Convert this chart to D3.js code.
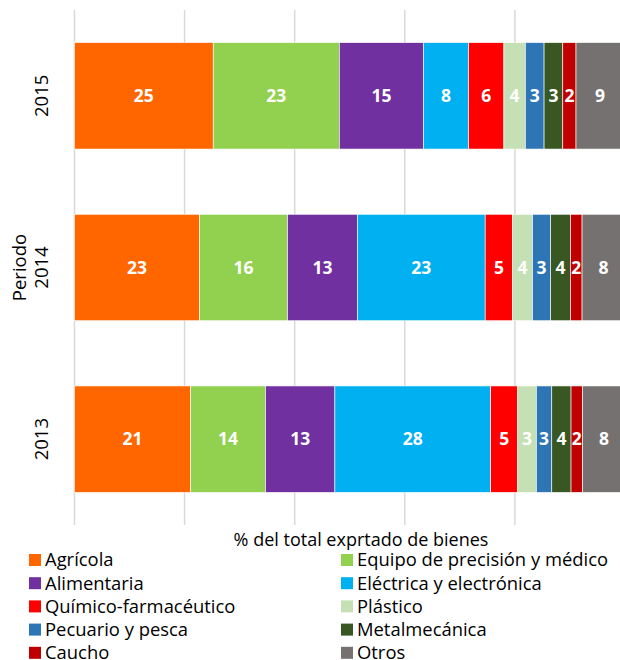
<!DOCTYPE html>
<html>
<head>
<meta charset="utf-8">
<script src="https://d3js.org/d3.v7.min.js"></script>
<style>
  body { margin: 0; background: #fff; }
  text { font-family: "Open Sans", "Liberation Sans", sans-serif; }
</style>
</head>
<body>
<div id="chart"></div>
<script>
var years = ["2015", "2014", "2013"];

var categories = ["Agrícola", "Equipo de precisión y médico", "Alimentaria", "Eléctrica y electrónica",
  "Químico-farmacéutico", "Plástico", "Pecuario y pesca", "Metalmecánica", "Caucho", "Otros"];

// % del total, orden: 2015, 2014, 2013
var agricola = [25.2, 22.7, 21.1];
var equipo = [22.9, 16.0, 13.6];
var alimentaria = [15.3, 12.7, 12.6];
var electrica = [8.2, 23.2, 28.3];
var quimico = [6.4, 5.0, 4.9];
var plastico = [3.9, 3.6, 3.4];
var pecuario = [3.4, 3.3, 2.8];
var metal = [3.4, 3.6, 3.5];
var caucho = [2.4, 2.1, 2.1];
var otros = [8.7, 7.8, 7.8];

var xTicks = [0, 20, 40, 60, 80, 100];

var colors = ["#FF6600", "#92D050", "#7030A0", "#00B0F0", "#FF0000",
  "#C5E0B4", "#2E75B6", "#385723", "#C00000", "#767171"];

var series = [agricola, equipo, alimentaria, electrica, quimico, plastico, pecuario, metal, caucho, otros];

var svgWidth = 620;
var svgHeight = 660;

var margin = { top: 10, right: -5, bottom: 135, left: 74.5 };
var width = svgWidth - margin.left - margin.right;
var height = svgHeight - margin.top - margin.bottom;

var svg = d3.select("#chart")
  .append("svg")
  .attr("width", svgWidth)
  .attr("height", svgHeight);

var chartGroup = svg.append("g")
  .attr("transform", `translate(${margin.left}, ${margin.top})`);

var table = years.map(function(y, i) {
  var row = { year: y };
  categories.forEach(function(c, j) { row[c] = series[j][i]; });
  return row;
});

var stacked = d3.stack().keys(categories)(table);

var xScale = d3.scaleLinear().domain([0, 100]).range([0, width]);
var yScale = d3.scaleBand().domain(years).range([0, height]).paddingInner(0.38).paddingOuter(0.19);
var color = d3.scaleOrdinal().domain(categories).range(colors);

// gridlines
chartGroup.append("g")
  .selectAll("line")
  .data(xTicks)
  .enter()
  .append("line")
  .attr("x1", d => xScale(d))
  .attr("x2", d => xScale(d))
  .attr("y1", 0)
  .attr("y2", height)
  .attr("stroke", "#D9D9D9")
  .attr("stroke-width", 1.5);

var layers = chartGroup.selectAll(".layer")
  .data(stacked)
  .enter()
  .append("g")
  .attr("class", "layer")
  .attr("fill", d => color(d.key));

layers.selectAll("rect")
  .data(d => d)
  .enter()
  .append("rect")
  .attr("x", d => xScale(d[0]))
  .attr("y", d => yScale(d.data.year))
  .attr("width", d => xScale(d[1]) - xScale(d[0]))
  .attr("height", yScale.bandwidth())
  .attr("stroke", "#fff")
  .attr("stroke-width", 0.6);

layers.selectAll("text")
  .data(d => d)
  .enter()
  .append("text")
  .attr("x", d => xScale((d[0] + d[1]) / 2))
  .attr("y", d => yScale(d.data.year) + yScale.bandwidth() / 2)
  .attr("dy", "0.35em")
  .attr("text-anchor", "middle")
  .attr("fill", "white")
  .attr("font-size", "17.5px")
  .attr("font-weight", "bold")
  .text(d => Math.round(d[1] - d[0]));

// year labels
chartGroup.selectAll(".yearLabel")
  .data(years)
  .enter()
  .append("text")
  .attr("class", "yearLabel")
  .attr("transform", d => `translate(${-33}, ${yScale(d) + yScale.bandwidth() / 2}) rotate(-90)`)
  .attr("dy", "0.35em")
  .attr("text-anchor", "middle")
  .attr("font-size", "18.5px")
  .attr("fill", "#000")
  .text(d => d);

chartGroup.append("text")
  .attr("transform", `translate(${-55}, ${yScale("2014") + yScale.bandwidth() / 2}) rotate(-90)`)
  .attr("dy", "0.35em")
  .attr("text-anchor", "middle")
  .attr("font-size", "18.5px")
  .text("Periodo");

svg.append("text")
  .attr("x", 361)
  .attr("y", 540)
  .attr("dy", "0.35em")
  .attr("text-anchor", "middle")
  .attr("font-size", "18px")
  .text("% del total exprtado de bienes");

// legend
var legend = svg.selectAll(".legend")
  .data(categories)
  .enter()
  .append("g")
  .attr("class", "legend")
  .attr("transform", (d, i) => `translate(${i % 2 === 0 ? 29 : 341}, ${560 + Math.floor(i / 2) * 23.2})`);

legend.append("rect")
  .attr("x", 0)
  .attr("y", -6)
  .attr("width", 12)
  .attr("height", 12)
  .attr("fill", d => color(d));

legend.append("text")
  .attr("x", 16)
  .attr("y", 0)
  .attr("dy", "0.35em")
  .attr("font-size", "18.4px")
  .text(d => d);
</script>
</body>
</html>
